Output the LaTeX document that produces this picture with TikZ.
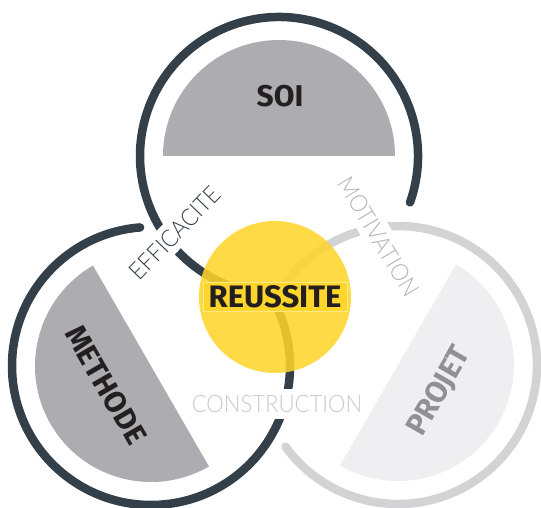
\documentclass[tikz,border=0pt]{standalone}
\usepackage{fontspec}
\setmainfont{Fira Sans}
\newfontfamily\thinfont{Lato Light}[FakeStretch=0.92]
\definecolor{slate}{HTML}{334049}
\definecolor{ringgray}{HTML}{D3D3D5}
\definecolor{halfgray}{HTML}{ADADB1}
\definecolor{halflight}{HTML}{EFEFF1}
\definecolor{gold}{HTML}{FED52B}
\definecolor{ink}{HTML}{231F20}
\definecolor{projetgray}{HTML}{909095}
\definecolor{motivgray}{HTML}{B4B4B8}
\definecolor{constgray}{HTML}{CACACD}
\begin{document}
\begin{tikzpicture}
  [x=1pt,y=1pt,
   ring/.style={line width=8.5pt,line cap=round},
   tag/.style={fill=white,inner sep=6pt,font=\thinfont\fontsize{24}{24}\selectfont},
   big/.style={font=\bfseries\fontsize{30}{30}\selectfont}]
  \useasboundingbox (0,0) rectangle (541,507);
  \coordinate (soi) at (279,351);
  \coordinate (methode) at (151,141);
  \coordinate (projet) at (398,142);
  % rings
  \foreach \c/\a/\b/\col in {soi/-19.5/270/slate,methode/94.5/390/slate,projet/216/510/ringgray}
    \draw[ring,\col] (\c) ++(\a:139) arc[start angle=\a,end angle=\b,radius=139];
  % labels cut the rings
  \node (eff)[tag,rotate=46,text=slate] at (175,274) {EFFICACITE};
  \node (mot)[tag,rotate=-59,text=motivgray] at (378.5,270.5) {MOTIVATION};
  \node (con)[tag,text=constgray] at (277,103) {CONSTRUCTION};
  % half discs
  \foreach \c/\a/\col in {soi/0/halfgray,methode/120/halfgray,projet/-120/halflight}
    \fill[\col] (\c) ++(\a:116) arc[start angle=\a,delta angle=180,radius=116] -- cycle;
  \node (soitext)[big,text=ink] at (280,411) {SOI};
  \node (methodetext)[big,text=ink,rotate=-60] at (106,122) {METHODE};
  \node (projettext)[big,text=projetgray,rotate=60] at (439.5,115.5) {PROJET};
  % centre
  \node (reussite)[circle,fill=gold,opacity=.87,minimum size=152pt] at (275,210) {};
  \node (reussitetext)[big,font=\bfseries\fontsize{31}{31}\selectfont,text=ink,fill=gold,
    draw=gold!55!white,line width=.6pt,minimum width=144pt,minimum height=29pt,
    inner sep=0pt] at (reussite) {REUSSITE};
\end{tikzpicture}
\end{document}
